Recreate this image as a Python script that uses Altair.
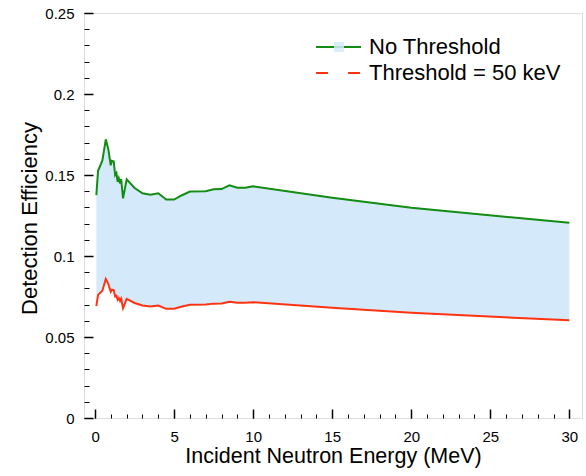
import altair as alt
import pandas as pd

FONT = "Liberation Sans"

# ---- data ----
energy = [0.08, 0.19, 0.46, 0.68, 0.84, 0.99, 1.06, 1.18, 1.27, 1.35, 1.43, 1.50,
          1.58, 1.65, 1.77, 2.00, 2.50, 3.00, 3.50, 4.00, 4.50, 5.00, 5.50, 6.00,
          7.00, 7.50, 8.00, 8.50, 9.00, 9.50, 10.0, 15.0, 20.0, 30.0]
no_threshold = [0.1376, 0.1526, 0.1588, 0.1720, 0.1658, 0.1560, 0.1588, 0.1584,
                0.1500, 0.1512, 0.1458, 0.1480, 0.1448, 0.1475, 0.1356, 0.1473,
                0.1420, 0.1387, 0.1378, 0.1387, 0.1348, 0.1348, 0.1375, 0.1398,
                0.1400, 0.1412, 0.1413, 0.1436, 0.1421, 0.1422, 0.1430, 0.1360,
                0.1298, 0.1205]
threshold_50 = [0.0690, 0.0760, 0.0785, 0.0858, 0.0827, 0.0780, 0.0792, 0.0790,
                0.0750, 0.0755, 0.0730, 0.0740, 0.0723, 0.0737, 0.0678, 0.0735,
                0.0710, 0.0694, 0.0689, 0.0694, 0.0674, 0.0674, 0.0688, 0.0699,
                0.0700, 0.0706, 0.0707, 0.0718, 0.0711, 0.0711, 0.0715, 0.0680,
                0.0649, 0.0603]
series_names = ["No Threshold", "Threshold = 50 keV"]
series_colors = ["#128c12", "#ff3311"]
band_name = "band"
band_color = "#d4eafb"

x_major = [0, 5, 10, 15, 20, 25, 30]
x_minor = list(range(0, 31))
y_major = [0, 0.05, 0.1, 0.15, 0.2, 0.25]
y_minor = [round(i * 0.01, 2) for i in range(26)]

n = len(energy)
band_df = pd.DataFrame({"energy": energy, "hi": no_threshold, "lo": threshold_50,
                        "band": [band_name] * n})
green_df = pd.DataFrame({"energy": energy, "eff": no_threshold, "series": [series_names[0]] * n})
red_df = pd.DataFrame({"energy": energy, "eff": threshold_50, "series": [series_names[1]] * n})

xscale = alt.Scale(domain=[-0.7, 30.8], nice=False, zero=False)
yscale = alt.Scale(domain=[0, 0.25], nice=False, zero=False)

# axes: labels/titles; major ticks (inside); minor ticks (inside)
x_axis_labels = alt.Axis(orient="bottom", values=x_major, ticks=False, tickSize=0, domain=False,
                         grid=False, labelFontSize=15, labelFont=FONT, labelColor="black",
                         labelPadding=11, labelFlush=False, labelOverlap=False,
                         titleFontSize=21.5, titleFont=FONT, titleFontWeight="normal",
                         titleColor="black", titleBaseline="alphabetic", titleY=44)
y_axis_labels = alt.Axis(orient="left", values=y_major, ticks=False, tickSize=0, domain=False,
                         grid=False, labelFontSize=15, labelFont=FONT, labelColor="black",
                         labelPadding=10, labelFlush=False, labelOverlap=False, format="~g",
                         titleFontSize=22, titleFont=FONT, titleFontWeight="normal",
                         titleColor="black", titleBaseline="alphabetic", titleAngle=270,
                         titleX=-48, titleY=205)
x_axis_major = alt.Axis(orient="bottom", values=x_major, labels=False, domain=False, grid=False,
                        ticks=True, tickSize=9, tickWidth=1.5, tickColor="black", offset=-9, zindex=2)
y_axis_major = alt.Axis(orient="left", values=y_major, labels=False, domain=False, grid=False,
                        ticks=True, tickSize=9, tickWidth=1.5, tickColor="black", offset=-9, zindex=2)
x_axis_minor = alt.Axis(orient="bottom", values=x_minor, labels=False, domain=False, grid=False,
                        ticks=True, tickSize=4, tickWidth=1, tickColor="black", offset=-4, zindex=2)
y_axis_minor = alt.Axis(orient="left", values=y_minor, labels=False, domain=False, grid=False,
                        ticks=True, tickSize=5, tickWidth=1, tickColor="black", offset=-5, zindex=2)


def line_legend(y, dash=None):
    kw = dict(title=None, orient="none", legendX=231, legendY=y, symbolType="stroke",
              symbolSize=2025, symbolStrokeWidth=2, labelFontSize=22, labelFont=FONT,
              labelColor="black", labelOffset=7, clipHeight=26, rowPadding=0, padding=0,
              labelLimit=400, zindex=1)
    if dash is not None:
        kw["symbolDash"] = dash
    return alt.Legend(**kw)


band_legend = alt.Legend(
    title=None, orient="none", legendX=250, legendY=21, symbolType="square",
    symbolSize=100, symbolStrokeWidth=0, clipHeight=26, padding=0, labelExpr="''",
    symbolOpacity=0.85, zindex=2,
)

area = alt.Chart(band_df).mark_area(opacity=1).encode(
    x=alt.X("energy:Q", scale=xscale, axis=x_axis_labels, title="Incident Neutron Energy (MeV)"),
    y=alt.Y("hi:Q", scale=yscale, axis=y_axis_labels, title="Detection Efficiency"),
    y2="lo:Q",
    fill=alt.Fill("band:N", scale=alt.Scale(domain=[band_name], range=[band_color]),
                  legend=band_legend),
)

green = alt.Chart(green_df).mark_line(strokeWidth=2).encode(
    x=alt.X("energy:Q", scale=xscale, axis=x_axis_major, title=None),
    y=alt.Y("eff:Q", scale=yscale, axis=y_axis_major, title=None),
    color=alt.Color("series:N", scale=alt.Scale(domain=[series_names[0]], range=[series_colors[0]]),
                    legend=line_legend(21)),
)

red = alt.Chart(red_df).mark_line(strokeWidth=2).encode(
    x=alt.X("energy:Q", scale=xscale, axis=x_axis_minor, title=None),
    y=alt.Y("eff:Q", scale=yscale, axis=y_axis_minor, title=None),
    stroke=alt.Stroke("series:N", scale=alt.Scale(domain=[series_names[1]], range=[series_colors[1]]),
                      legend=line_legend(47, [12, 20])),
)

chart = (
    alt.layer(area, green, red)
    .resolve_axis(x="independent", y="independent")
    .properties(width=498, height=405, autosize=alt.AutoSizeParams(type="none"),
                padding={"left": 84, "top": 13, "right": 4, "bottom": 58},
                background="white")
    .configure_view(stroke="black", strokeWidth=2)
    .configure(font=FONT)
)

chart.save("out.html", embed_options={"renderer": "svg", "actions": False})
